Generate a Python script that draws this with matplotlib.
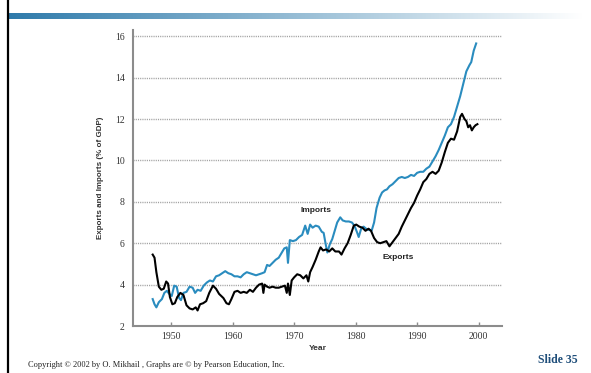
import numpy as np
import matplotlib.pyplot as plt
from matplotlib.lines import Line2D

# exports and imports as a share of GDP
exp_years = [1947.0, 1947.3, 1947.6, 1948.0, 1948.4, 1948.8, 1949.2, 1949.5, 1949.8, 1950.2,
             1950.6, 1951.0, 1951.5, 1952.0, 1952.5, 1953.0, 1953.5, 1954.0, 1954.3, 1954.7,
             1955.2, 1955.7, 1956.2, 1956.8, 1957.3, 1957.8, 1958.5, 1959.0, 1959.4, 1959.8,
             1960.3, 1960.8, 1961.3, 1961.8, 1962.3, 1962.8, 1963.3, 1963.8, 1964.3, 1964.8,
             1965.0, 1965.2, 1965.6, 1966.0, 1966.5, 1967.0, 1967.5, 1968.0, 1968.5, 1968.8,
             1969.0, 1969.3, 1969.6, 1970.0, 1970.5, 1971.0, 1971.5, 1972.0, 1972.3, 1972.6,
             1973.0, 1973.5, 1974.0, 1974.3, 1974.7, 1975.2, 1975.7, 1976.2, 1976.7, 1977.3,
             1977.7, 1978.2, 1978.7, 1979.2, 1979.7, 1980.1, 1980.6, 1981.1, 1981.6, 1982.1,
             1982.5, 1983.0, 1983.5, 1984.0, 1984.5, 1985.0, 1985.5, 1986.0, 1986.5, 1987.0,
             1987.5, 1988.0, 1988.5, 1989.0, 1989.5, 1990.0, 1990.5, 1991.0, 1991.5, 1992.0,
             1992.5, 1993.0, 1993.5, 1994.0, 1994.5, 1995.0, 1995.5, 1996.0, 1996.5, 1997.0,
             1997.3, 1997.7, 1998.0, 1998.3, 1998.6, 1998.9, 1999.2, 1999.5, 1999.8]
exports = [5.45, 5.3, 4.6, 3.9, 3.75, 3.8, 4.15, 4.05, 3.4, 3.05,
           3.1, 3.4, 3.6, 3.5, 3.0, 2.85, 2.8, 2.9, 2.75, 3.05,
           3.1, 3.2, 3.6, 3.95, 3.8, 3.55, 3.35, 3.1, 3.05, 3.3,
           3.65, 3.7, 3.6, 3.65, 3.6, 3.75, 3.65, 3.85, 4.0, 4.05,
           3.6, 4.0, 3.9, 3.85, 3.9, 3.85, 3.85, 3.9, 3.95, 3.6,
           4.05, 3.5, 4.2, 4.35, 4.5, 4.45, 4.3, 4.45, 4.15, 4.6,
           4.85, 5.2, 5.6, 5.8, 5.65, 5.7, 5.6, 5.75, 5.6, 5.6,
           5.45, 5.75, 6.0, 6.4, 6.85, 6.9, 6.8, 6.75, 6.6, 6.7,
           6.6, 6.25, 6.05, 6.0, 6.05, 6.1, 5.85, 6.05, 6.25, 6.45,
           6.8, 7.1, 7.4, 7.7, 7.95, 8.3, 8.6, 8.95, 9.1, 9.35,
           9.45, 9.35, 9.5, 9.9, 10.4, 10.85, 11.05, 11.0, 11.4, 12.1,
           12.25, 12.0, 11.9, 11.6, 11.7, 11.45, 11.6, 11.7, 11.75]

imp_years = [1947.0, 1947.3, 1947.6, 1948.0, 1948.5, 1948.9, 1949.3, 1949.7, 1950.1, 1950.5,
             1950.9, 1951.3, 1951.6, 1952.0, 1952.5, 1953.0, 1953.5, 1953.9, 1954.3, 1954.8,
             1955.3, 1955.8, 1956.3, 1956.8, 1957.3, 1957.8, 1958.3, 1958.8, 1959.3, 1959.8,
             1960.3, 1960.8, 1961.3, 1961.8, 1962.3, 1962.8, 1963.3, 1963.8, 1964.3, 1964.8,
             1965.2, 1965.6, 1966.0, 1966.5, 1967.0, 1967.5, 1968.0, 1968.4, 1968.8, 1969.0,
             1969.3, 1969.8, 1970.3, 1970.8, 1971.3, 1971.8, 1972.2, 1972.6, 1973.0, 1973.5,
             1974.0, 1974.5, 1974.8, 1975.1, 1975.4, 1975.8, 1976.2, 1976.6, 1977.0, 1977.5,
             1977.9, 1978.4, 1978.9, 1979.4, 1979.8, 1980.2, 1980.5, 1980.9, 1981.3, 1981.7,
             1982.1, 1982.6, 1983.0, 1983.4, 1983.9, 1984.3, 1984.7, 1985.1, 1985.5, 1986.0,
             1986.5, 1987.0, 1987.5, 1988.0, 1988.5, 1989.0, 1989.5, 1990.0, 1990.5, 1991.0,
             1991.5, 1992.0, 1992.5, 1993.0, 1993.5, 1994.0, 1994.5, 1995.0, 1995.5, 1996.0,
             1996.5, 1997.0, 1997.5, 1998.0, 1998.5, 1998.8, 1999.2, 1999.6]
imports = [3.3, 3.05, 2.9, 3.15, 3.3, 3.6, 3.7, 3.55, 3.45, 3.95,
           3.9, 3.35, 3.25, 3.6, 3.65, 3.9, 3.85, 3.6, 3.75, 3.7,
           3.95, 4.1, 4.2, 4.15, 4.4, 4.45, 4.55, 4.65, 4.55, 4.5,
           4.4, 4.4, 4.35, 4.5, 4.6, 4.55, 4.5, 4.45, 4.5, 4.55,
           4.6, 4.95, 4.9, 5.05, 5.2, 5.3, 5.55, 5.75, 5.8, 5.05,
           6.15, 6.1, 6.15, 6.3, 6.4, 6.85, 6.45, 6.9, 6.75, 6.85,
           6.8, 6.55, 6.5, 6.0, 5.55, 5.95, 6.2, 6.6, 7.0, 7.25,
           7.1, 7.05, 7.05, 7.0, 6.85, 6.55, 6.3, 6.7, 6.8, 6.7,
           6.65, 6.6, 7.0, 7.7, 8.2, 8.45, 8.55, 8.6, 8.75, 8.85,
           9.0, 9.15, 9.2, 9.15, 9.2, 9.3, 9.25, 9.4, 9.45, 9.45,
           9.6, 9.7, 9.95, 10.2, 10.5, 10.85, 11.2, 11.6, 11.75, 12.1,
           12.6, 13.1, 13.7, 14.3, 14.6, 14.75, 15.3, 15.65]

x_ticks = [1950, 1960, 1970, 1980, 1990, 2000]
y_ticks = [2, 4, 6, 8, 10, 12, 14, 16]

serif = ['Liberation Serif', 'DejaVu Serif']
sans = ['Liberation Sans', 'DejaVu Sans']
axis_grey = '#8c8c8c'

fig = plt.figure(figsize=(5.91, 3.73), dpi=100)

# slide decoration: left rule and fading title bar
fig.add_artist(Line2D([7.5 / 591, 7.5 / 591], [0, 1], color='black', lw=1.6,
                      transform=fig.transFigure))
bar = fig.add_axes([8 / 591, 1 - 19 / 373, 575 / 591, 6 / 373])
grad = np.linspace(0, 1, 256)
c0 = np.array([0.18, 0.48, 0.67])
cols = c0[None, :] * (1 - grad[:, None]) + np.ones(3)[None, :] * grad[:, None]
bar.imshow(cols[None, :, :], aspect='auto', extent=[0, 1, 0, 1])
bar.axis('off')

ax = fig.add_axes([133 / 591, 47 / 373, 369 / 591, 296 / 373])
ax.plot(imp_years, imports, color='#2a8cbf', lw=1.5)
ax.plot(exp_years, exports, color='black', lw=1.5)

ax.set_xlim(1943.8, 2003.8)
ax.set_ylim(2, 16.3)
ax.set_xticks(x_ticks)
ax.set_yticks(y_ticks)
for y in y_ticks[1:]:
    ax.axhline(y, color='#a0a0a0', lw=1.0, ls=(0, (0.8, 0.8)), zorder=0)

for side in ['top', 'right']:
    ax.spines[side].set_visible(False)
for side in ['left', 'bottom']:
    ax.spines[side].set_color(axis_grey)
    ax.spines[side].set_linewidth(1.5)
ax.tick_params(axis='x', direction='in', length=3, color=axis_grey, width=1, pad=4)
ax.tick_params(axis='y', length=0, pad=6)
for lab in ax.get_xticklabels() + ax.get_yticklabels():
    lab.set_fontfamily(serif)
    lab.set_fontsize(7)
    lab.set_color('#333333')

ax.set_xlabel('Year', fontfamily=sans, fontsize=6, fontweight='bold', color='#333333', labelpad=3)
ax.set_ylabel('Exports and Imports (% of GDP)', fontfamily=sans, fontsize=5.8,
              fontweight='bold', color='#333333', labelpad=8)

ax.text(1973.5, 7.6, 'Imports', fontfamily=sans, fontsize=6, fontweight='bold',
        ha='center', va='center', color='#222222')
ax.text(1987.0, 5.3, 'Exports', fontfamily=sans, fontsize=6, fontweight='bold',
        ha='center', va='center', color='#222222')

fig.text(28 / 591, 1 - 365 / 373, 'Copyright \u00a9 2002 by O. Mikhail , Graphs are \u00a9 by Pearson Education, Inc.',
         fontfamily=serif, fontsize=6, ha='left', va='center', color='#222222')
fig.text(578 / 591, 1 - 360 / 373, 'Slide 35', fontfamily=serif, fontsize=8.5, fontweight='bold',
         ha='right', va='center', color='#1f4e7a')

fig.savefig('out.png', dpi=100)
